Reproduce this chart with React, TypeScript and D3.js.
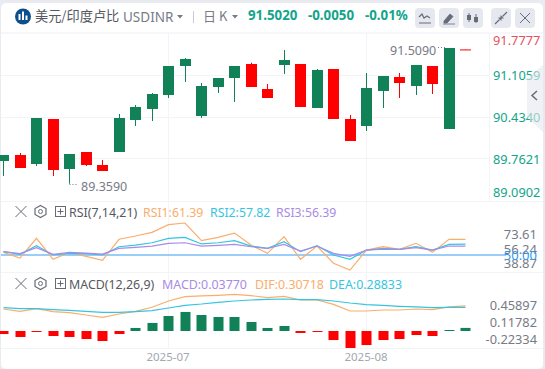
import React from "react";
import * as d3 from "d3";

const opens = [89.722,89.818,89.674,90.394,89.594,89.866,89.658,89.866,90.378,90.554,90.778,91.242,90.442,90.906,91.050,91.274,90.874,91.258,91.274,90.570,91.194,90.394,90.282,90.842,91.066,90.922,91.242,90.234,91.507];
const closes = [89.818,89.610,90.410,89.578,89.834,89.658,89.562,90.410,90.586,90.794,91.242,91.354,90.922,91.050,91.242,90.906,90.730,91.338,90.586,91.178,90.394,90.042,90.890,91.082,90.970,91.258,90.954,91.530,91.502];
const highs = [89.818,89.850,90.410,90.394,89.834,89.866,89.738,90.474,90.618,90.810,91.242,91.370,90.970,91.050,91.242,91.295,90.954,91.498,91.274,91.194,91.194,90.458,91.130,91.082,91.130,91.258,91.242,91.530,91.507];
const lows = [89.482,89.610,89.642,89.482,89.359,89.642,89.562,89.866,90.282,90.362,90.730,90.986,90.410,90.810,90.666,90.906,90.730,91.114,90.586,90.570,90.394,90.042,90.202,90.570,90.730,90.778,90.794,90.234,91.502];
const rsi1 = [51.9,47.8,62.1,46.9,51.9,49.0,46.1,61.4,63.8,66.4,72.0,73.2,60.4,62.8,65.9,57.2,51.2,63.3,46.9,56.5,44.0,39.1,53.6,56.0,54.1,58.5,51.9,61.4,61.39];
const rsi2 = [52.4,50.5,56.8,50,51.2,51,50,56,57.2,58.9,62.1,62.8,58,58.9,60.4,56.5,54.8,59.7,52.4,56.8,50,46.9,53.6,54.8,54.1,56,53.6,57.7,57.82];
const rsi3 = [52.4,51,55.3,50.5,51.9,51.4,50.7,54.8,55.6,56.5,58.5,58.9,56.5,57,57.7,56,54.8,57.7,52.9,56.5,51.2,49,53.6,54.3,54.1,55.3,53.6,56.5,56.39];
const macdHist = [-0.037,-0.073,-0.012,-0.061,-0.073,-0.098,-0.122,-0.037,0.037,0.098,0.183,0.232,0.195,0.171,0.171,0.110,0.037,0.061,-0.024,-0.012,-0.110,-0.207,-0.171,-0.110,-0.098,-0.049,-0.061,0.012,0.0377];
const dif = [.268,.240,.272,.236,.224,.195,.167,.207,.240,.289,.366,.419,.427,.435,.447,.431,.407,.423,.378,.378,.325,.244,.244,.256,.256,.268,.260,.293,.30718];
const dea = [.285,.272,.272,.260,.252,.240,.228,.228,.236,.248,.280,.313,.329,.350,.366,.378,.386,.390,.382,.382,.366,.341,.321,.313,.301,.293,.285,.289,.28833];
const priceTicks = [91.7777,91.1059,90.4340,89.7621,89.0902];
const rsiTicks = [73.61,56.24,38.87];
const macdTicks = [0.45897,0.11782,-0.22334];
const dateIndex = [10,22];
const dateLabels = ["2025-07","2025-08"];

const GREEN = "#118257", RED = "#ff0000";
const TEAL = "#12a58a", GRID = "#f3f4f8", GREY = "#777b86";
const ORANGE = "#f9ae6d", CYAN = "#35c5e0", PURPLE = "#a98be6", BLUE = "#79bdf6";
const LATIN = "'Noto Sans','Open Sans',sans-serif";
const CJK = "'Noto Sans CJK SC',sans-serif";

const x = d3.scaleLinear().domain([0, 28]).range([3.5, 465.5]);
const yP = d3.scaleLinear().domain([90.434, 91.1059]).range([116.5, 74.5]);
const yR = d3.scaleLinear().domain([50, 61.39]).range([255, 239.3]);
const yM = d3.scaleLinear().domain([0, 0.30718]).range([331, 305.8]);
const yRL = d3.scaleLinear().domain([38.87, 73.61]).range([263.8, 234.8]);
const yML = d3.scaleLinear().domain([-0.22334, 0.45897]).range([339.7, 305.7]);
const clampLabel = d3.scaleLinear().domain([44.5, 196.5]).range([44.5, 196.5]).clamp(true);

const lineOf = (y: d3.ScaleLinear<number, number>) =>
  d3.line<number>().x((_, i) => x(i)).y((d) => y(d));

const Btn = ({ cx, children }: { cx: number; children?: React.ReactNode }) => (
  <g transform={`translate(${cx},18)`}>
    <rect x={-10} y={-10} width={20} height={20} rx={4} fill="#e6e8ef" />
    {children}
  </g>
);

const PaneIcons = ({ y }: { y: number }) => (
  <g transform={`translate(0,${y})`} stroke="#666b76" fill="none">
    <path d="M15.5 0l11 11M26.5 0l-11 11" strokeWidth={1} />
    <path d="M40.5 -0.5l5.5 3v6l-5.5 3l-5.5-3v-6z" strokeWidth={1.2} />
    <circle cx={40.5} cy={5.5} r={2} strokeWidth={1} />
    <rect x={55.5} y={0.5} width={10} height={10} strokeWidth={1} />
    <path d="M60.5 2.5v6M57.5 5.5h6" strokeWidth={1} />
  </g>
);

export default function App() {
  const digits = { fontFamily: LATIN, fontSize: 12.5 } as const;
  return (
    <svg width={545} height={369} style={{ position: "absolute", left: 0, top: 0, background: "#e9ebf1" }}>
      <rect x={1} y={3} width={542} height={366} rx={5} fill="#fff" />
      <line x1={1} x2={543} y1={33} y2={33} stroke={GRID} strokeWidth={1.5} />
      {/* header */}
      <circle cx={23} cy={16.5} r={8} fill="#0d4f8c" />
      <path d="M19.5 14v6M23 11.5v8.5M26.5 15.5v4.5" stroke="#fff" strokeWidth={2} />
      <text x={35} y={21} fontFamily={CJK} fontSize={13.2} fill="#55585f">美元/印度卢比</text>
      <text x={123} y={22} fontFamily={LATIN} fontSize={13.5} fill={GREY}>USDINR</text>
      <path d="M177 15h6l-3 3.5z" fill={GREY} />
      <line x1={193.5} x2={193.5} y1={11} y2={23} stroke="#c9ccd3" />
      <text x={203} y={20.5} fontFamily={CJK} fontSize={13} fill={GREY}>日 K</text>
      <path d="M232 15h6l-3 3.5z" fill={GREY} />
      <g fontFamily={LATIN} fontSize={13.3} fontWeight={700} fill={TEAL}>
        <text x={248} y={20}>91.5020</text>
        <text x={308} y={20}>-0.0050</text>
        <text x={365} y={20}>-0.01%</text>
      </g>
      <Btn cx={425}>
        <path d="M-6 -1l3-3l2 4l3-2l3 2M-6 5h12" stroke="#666b76" strokeWidth={1.2} fill="none" />
      </Btn>
      <Btn cx={449}>
        <path d="M-5 3l6-7l3 2.5l-6 6.5h-3zM-6 6h12" fill="#666b76" stroke="#666b76" strokeWidth={0.8} />
      </Btn>
      <Btn cx={473}>
        <path d="M-4 -5v9M3 -4v9" stroke="#666b76" strokeWidth={1} />
        <rect x={-6} y={-3} width={4} height={5} fill="#666b76" />
        <rect x={1} y={-1} width={4} height={5} fill="#666b76" />
      </Btn>
      <Btn cx={501}>
        <path d="M-6 6l4.5-4.5M6 -6l-4.5 4.5" stroke="#666b76" strokeWidth={1.2} />
        <path d="M-3 -0.5h3.5v3.5zM3 0.5h-3.5v-3.5z" fill="#666b76" />
      </Btn>
      <Btn cx={525}>
        <path d="M-5 -5l10 10M5 -5l-10 10" stroke="#666b76" strokeWidth={1} />
      </Btn>

      {/* grid and panes */}
      <g stroke={GRID} strokeWidth={1}>
        {priceTicks.slice(1, 4).map((t) => (
          <line key={t} x1={1} x2={489} y1={Math.round(yP(t)) + 0.5} y2={Math.round(yP(t)) + 0.5} />
        ))}
        {dateIndex.map((i) => (
          <line key={i} x1={Math.floor(x(i)) + 0.5} x2={Math.floor(x(i)) + 0.5} y1={33} y2={348} />
        ))}
        <line x1={489.5} x2={489.5} y1={33} y2={201} />
        <line x1={1} x2={543} y1={201.5} y2={201.5} />
        <line x1={1} x2={543} y1={272.5} y2={272.5} />
        <line x1={1} x2={543} y1={348.5} y2={348.5} />
      </g>

      {/* candles */}
      {opens.map((o, i) => {
        const c = closes[i];
        const col = c >= o ? GREEN : RED;
        const cx = Math.floor(x(i)) + 0.5;
        const top = yP(Math.max(o, c));
        const bot = yP(Math.min(o, c));
        return (
          <g key={i}>
            <line x1={cx} x2={cx} y1={yP(highs[i])} y2={yP(lows[i])} stroke={col} strokeWidth={1} />
            <rect x={cx - 5.5} width={11} y={top} height={Math.max(1, bot - top)} fill={col} />
          </g>
        );
      })}
      <text x={81} y={191} {...digits} fontSize={12.5} fill={GREY}>89.3590</text>
      <path d="M69.5 184.5h9" stroke={GREY} strokeDasharray="1 2" />
      <text x={390} y={55} {...digits} fontSize={12.5} fill={GREY}>91.5090</text>
      <path d="M438 47.5h7" stroke={GREY} strokeDasharray="1 2" />

      {priceTicks.map((t, i) => (
        <text key={t} x={493} y={clampLabel(yP(t) + 5.5)} {...digits} fontSize={12.8} fill={i === 0 ? "#e5535f" : TEAL}>
          {t.toFixed(4)}
        </text>
      ))}
      <path d="M545 63L527 79V117L545 134Z" fill="#e6e7ee" fillOpacity={0.6} />
      <path d="M537 91l-5 4.5l5 4.5" stroke="#666b76" strokeWidth={1.5} fill="none" />

      {/* RSI */}
      <PaneIcons y={206} />
      <text x={69} y={217} fontFamily={LATIN} fontSize={12.4} fill="#55585f">RSI(7,14,21)</text>
      <g fontFamily={LATIN} fontSize={12.3}>
        <text x={143} y={217} fill={ORANGE}>RSI1:61.39</text>
        <text x={210} y={217} fill={CYAN}>RSI2:57.82</text>
        <text x={276} y={217} fill={PURPLE}>RSI3:56.39</text>
      </g>
      <line x1={1} x2={506} y1={yR(50)} y2={yR(50)} stroke={BLUE} strokeWidth={1.5} />
      <path d={lineOf(yR)(rsi1)!} fill="none" stroke={ORANGE} strokeWidth={1.2} />
      <path d={lineOf(yR)(rsi2)!} fill="none" stroke={CYAN} strokeWidth={1.2} />
      <path d={lineOf(yR)(rsi3)!} fill="none" stroke={PURPLE} strokeWidth={1.2} />
      {rsiTicks.map((t) => (
        <text key={t} x={537} y={yRL(t) + 4.5} textAnchor="end" {...digits} fontSize={13} fill={GREY}>{t.toFixed(2)}</text>
      ))}
      <text x={537} y={yR(50) + 4.5} textAnchor="end" {...digits} fontSize={13} fill="#2f9bf0">50.00</text>

      {/* MACD */}
      <PaneIcons y={278} />
      <text x={69} y={289} fontFamily={LATIN} fontSize={12.4} fill="#55585f">MACD(12,26,9)</text>
      <g fontFamily={LATIN} fontSize={12.4}>
        <text x={162} y={289} fill={PURPLE}>MACD:0.03770</text>
        <text x={255} y={289} fill={ORANGE}>DIF:0.30718</text>
        <text x={329} y={289} fill={CYAN}>DEA:0.28833</text>
      </g>
      {macdHist.map((v, i) => {
        const cx = Math.floor(x(i)) + 0.5;
        const top = Math.min(yM(v), yM(0));
        return <rect key={i} x={cx - 5} width={10} y={top} height={Math.abs(yM(v) - yM(0))} fill={v >= 0 ? GREEN : RED} />;
      })}
      <path d={lineOf(yM)(dif)!} fill="none" stroke={ORANGE} strokeWidth={1.2} />
      <path d={lineOf(yM)(dea)!} fill="none" stroke={CYAN} strokeWidth={1.2} />
      {macdTicks.map((t) => (
        <text key={t} x={537} y={yML(t) + 4.5} textAnchor="end" {...digits} fontSize={12.8} fill={GREY}>{t.toFixed(5)}</text>
      ))}
      {dateLabels.map((d, i) => (
        <text key={d} x={x(dateIndex[i]) - 0.5} y={361} textAnchor="middle" fontFamily={LATIN} fontSize={11.5} fill="#a3a7b0">{d}</text>
      ))}
    </svg>
  );
}
